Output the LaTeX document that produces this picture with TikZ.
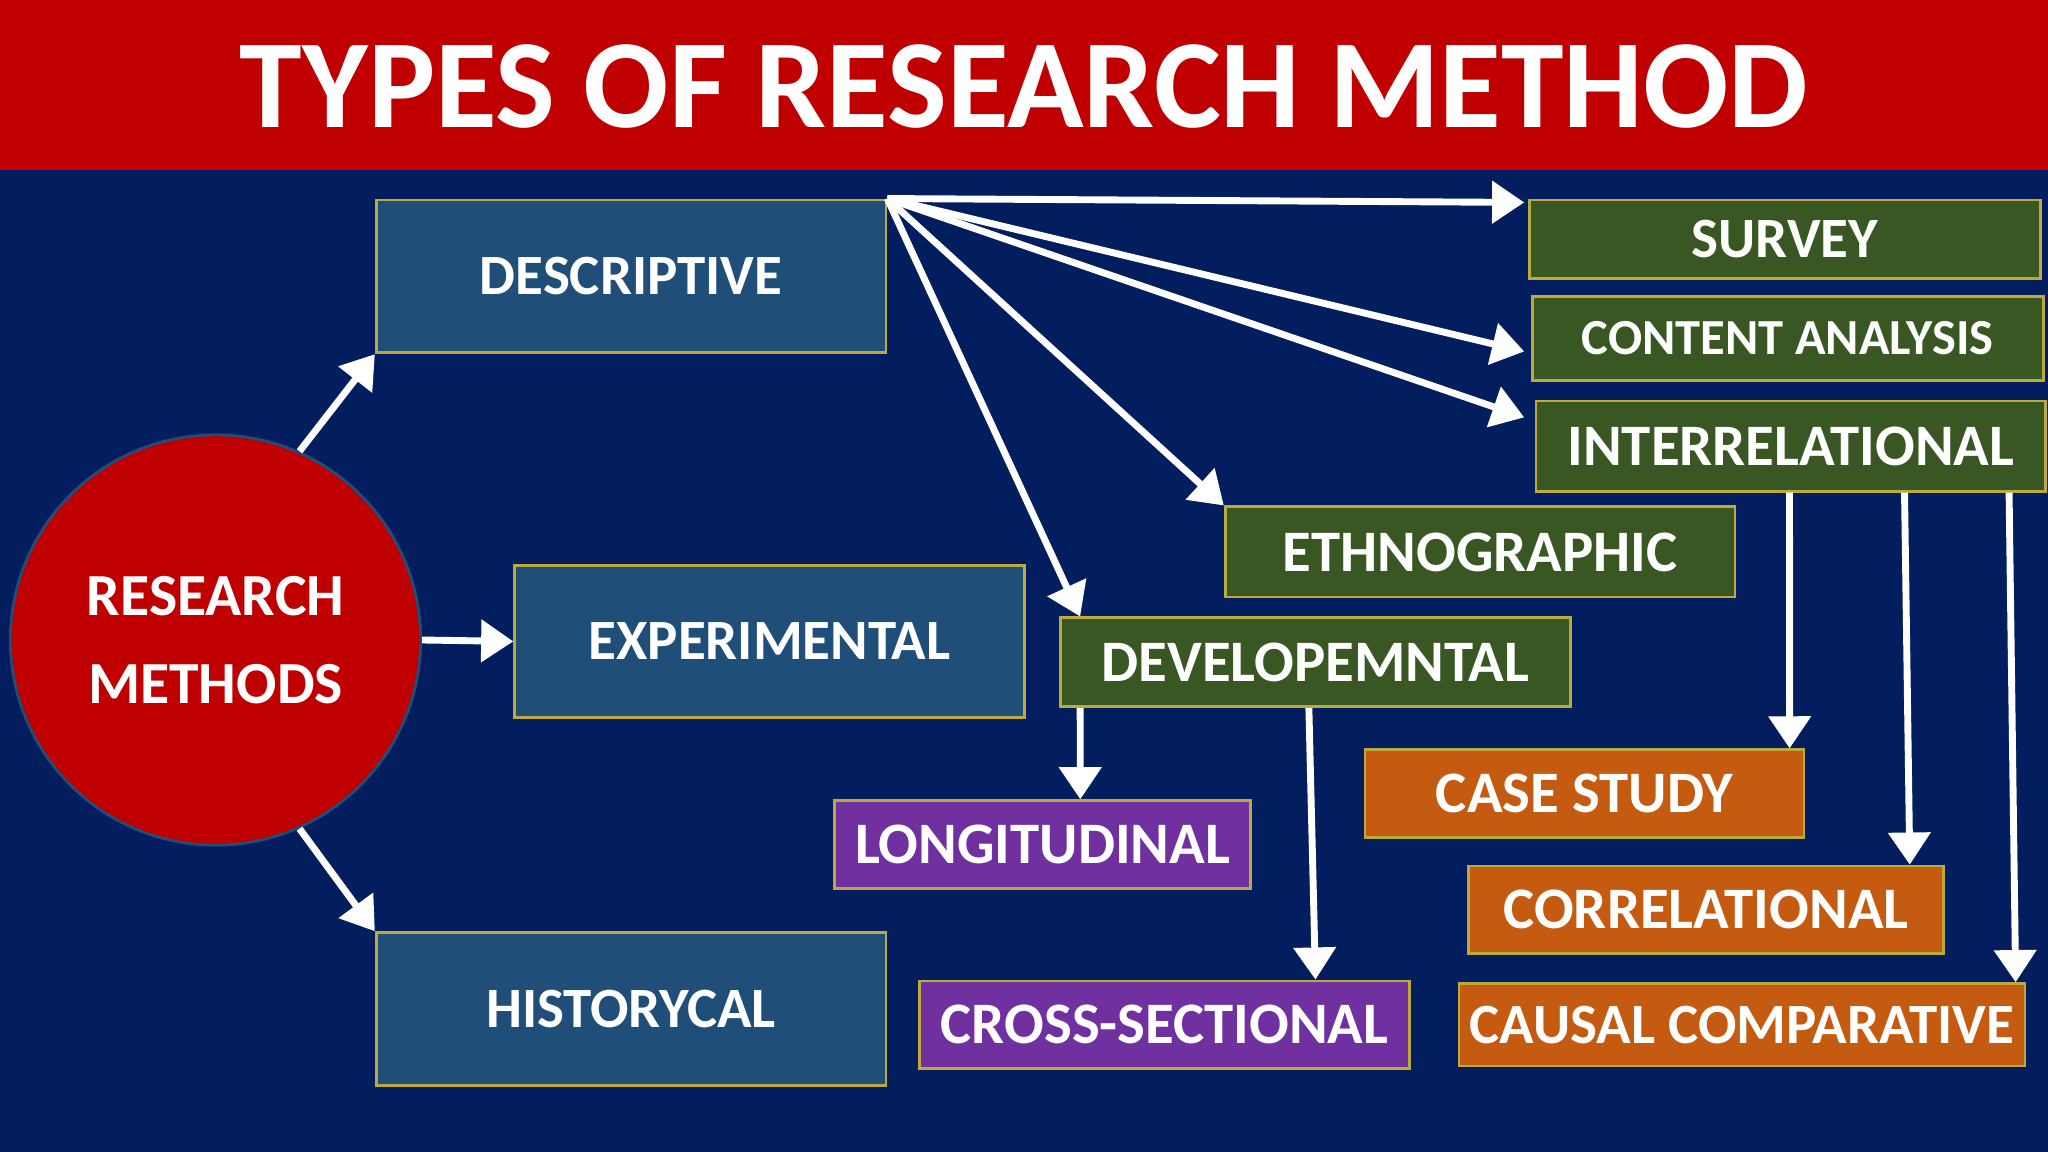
\documentclass[tikz,border=0pt]{standalone}
\usepackage{fontspec}
\setmainfont{Carlito}
\usetikzlibrary{arrows.meta}
\definecolor{navy}{RGB}{2,30,94}
\definecolor{titlered}{RGB}{192,0,0}
\definecolor{steel}{RGB}{31,78,121}
\definecolor{leaf}{RGB}{56,87,35}
\definecolor{plum}{RGB}{112,48,160}
\definecolor{rust}{RGB}{197,90,17}
\definecolor{edge}{RGB}{190,170,60}
\tikzset{
  box/.style={draw=edge, line width=0.6pt, anchor=north west, inner sep=0pt,
    text=white, font=\bfseries\fontsize{12.4}{14}\selectfont},
  bigbox/.style={box, font=\bfseries\fontsize{12.8}{15}\selectfont},
  arr/.style={draw=white, line width=1.5pt, -{Triangle[length=7pt,width=9pt]}}
}
\begin{document}
\begin{tikzpicture}[x=0.01cm,y=-0.01cm]
  % background and title
  \fill[navy] (0,0) rectangle (1568,882);
  \fill[titlered] (0,0) rectangle (1568,130);
  \node[text=white, font=\bfseries\fontsize{27.5}{30}\selectfont] (title) at (784,66) {TYPES OF RESEARCH METHOD};
  \useasboundingbox (0,0) rectangle (1568,882);

  % root
  \node[circle, fill=titlered, draw=steel, line width=0.6pt, minimum size=3.14cm,
    text=white, align=center, font=\bfseries\fontsize{13}{19}\selectfont] (root) at (165,490) {RESEARCH\\METHODS};

  % main branches
  \node[box, fill=steel, minimum width=3.9cm, minimum height=1.17cm] (desc) at (287,152) {DESCRIPTIVE};
  \node[box, fill=steel, minimum width=3.9cm, minimum height=1.16cm] (exp) at (393,432) {EXPERIMENTAL};
  \node[box, fill=steel, minimum width=3.9cm, minimum height=1.17cm] (hist) at (287,713) {HISTORYCAL};

  % descriptive types
  \node[box, fill=leaf, minimum width=3.91cm, minimum height=0.6cm] (survey) at (1170,152) {SURVEY};
  \node[box, fill=leaf, minimum width=3.91cm, minimum height=0.64cm, font=\bfseries\fontsize{11}{13}\selectfont] (content) at (1172,226) {CONTENT ANALYSIS};
  \node[bigbox, fill=leaf, minimum width=3.9cm, minimum height=0.69cm] (inter) at (1175,306) {INTERRELATIONAL};
  \node[bigbox, fill=leaf, minimum width=3.9cm, minimum height=0.69cm] (ethno) at (937,387) {ETHNOGRAPHIC};
  \node[bigbox, fill=leaf, minimum width=3.9cm, minimum height=0.68cm] (devel) at (811,472) {DEVELOPEMNTAL};

  % developmental types
  \node[bigbox, fill=plum, minimum width=3.18cm, minimum height=0.67cm] (longi) at (638,612) {LONGITUDINAL};
  \node[bigbox, fill=plum, minimum width=3.75cm, minimum height=0.67cm] (cross) at (703,750) {CROSS-SECTIONAL};

  % interrelational types
  \node[bigbox, fill=rust, minimum width=3.36cm, minimum height=0.67cm] (case) at (1044,573) {CASE STUDY};
  \node[bigbox, fill=rust, minimum width=3.64cm, minimum height=0.67cm] (corr) at (1123,662) {CORRELATIONAL};
  \node[box, fill=rust, minimum width=4.33cm, minimum height=0.63cm] (causal) at (1116,752) {CAUSAL COMPARATIVE};

  % connectors
  \draw[arr] (root.66) -- (desc.south west);
  \draw[arr] (root.east) -- (exp.west);
  \draw[arr] (root.-66) -- (hist.north west);

  \draw[arr] (desc.north east) -- ([xshift=-0.03cm]survey.west |- 0,155);
  \draw[arr] (desc.north east) -- ([xshift=-0.05cm,yshift=-0.1cm]content.west);
  \draw[arr] (desc.north east) -- ([xshift=-0.08cm,yshift=0.22cm]inter.west);
  \draw[arr] (desc.north east) -- (ethno.north west);
  \draw[arr] (desc.north east) -- ([xshift=0.16cm]devel.north west);

  \draw[arr] ([xshift=0.16cm]devel.south west) -- ([xshift=1.89cm]longi.north west);
  \draw[arr] ([xshift=1.91cm]devel.south west) -- ([xshift=3.04cm]cross.north west);

  \draw[arr] ([xshift=1.95cm]inter.south west) -- ([xshift=3.26cm]case.north west);
  \draw[arr] ([xshift=2.83cm]inter.south west) -- ([xshift=3.39cm]corr.north west);
  \draw[arr] ([xshift=3.63cm]inter.south west) -- ([xshift=4.27cm]causal.north west);
\end{tikzpicture}
\end{document}
